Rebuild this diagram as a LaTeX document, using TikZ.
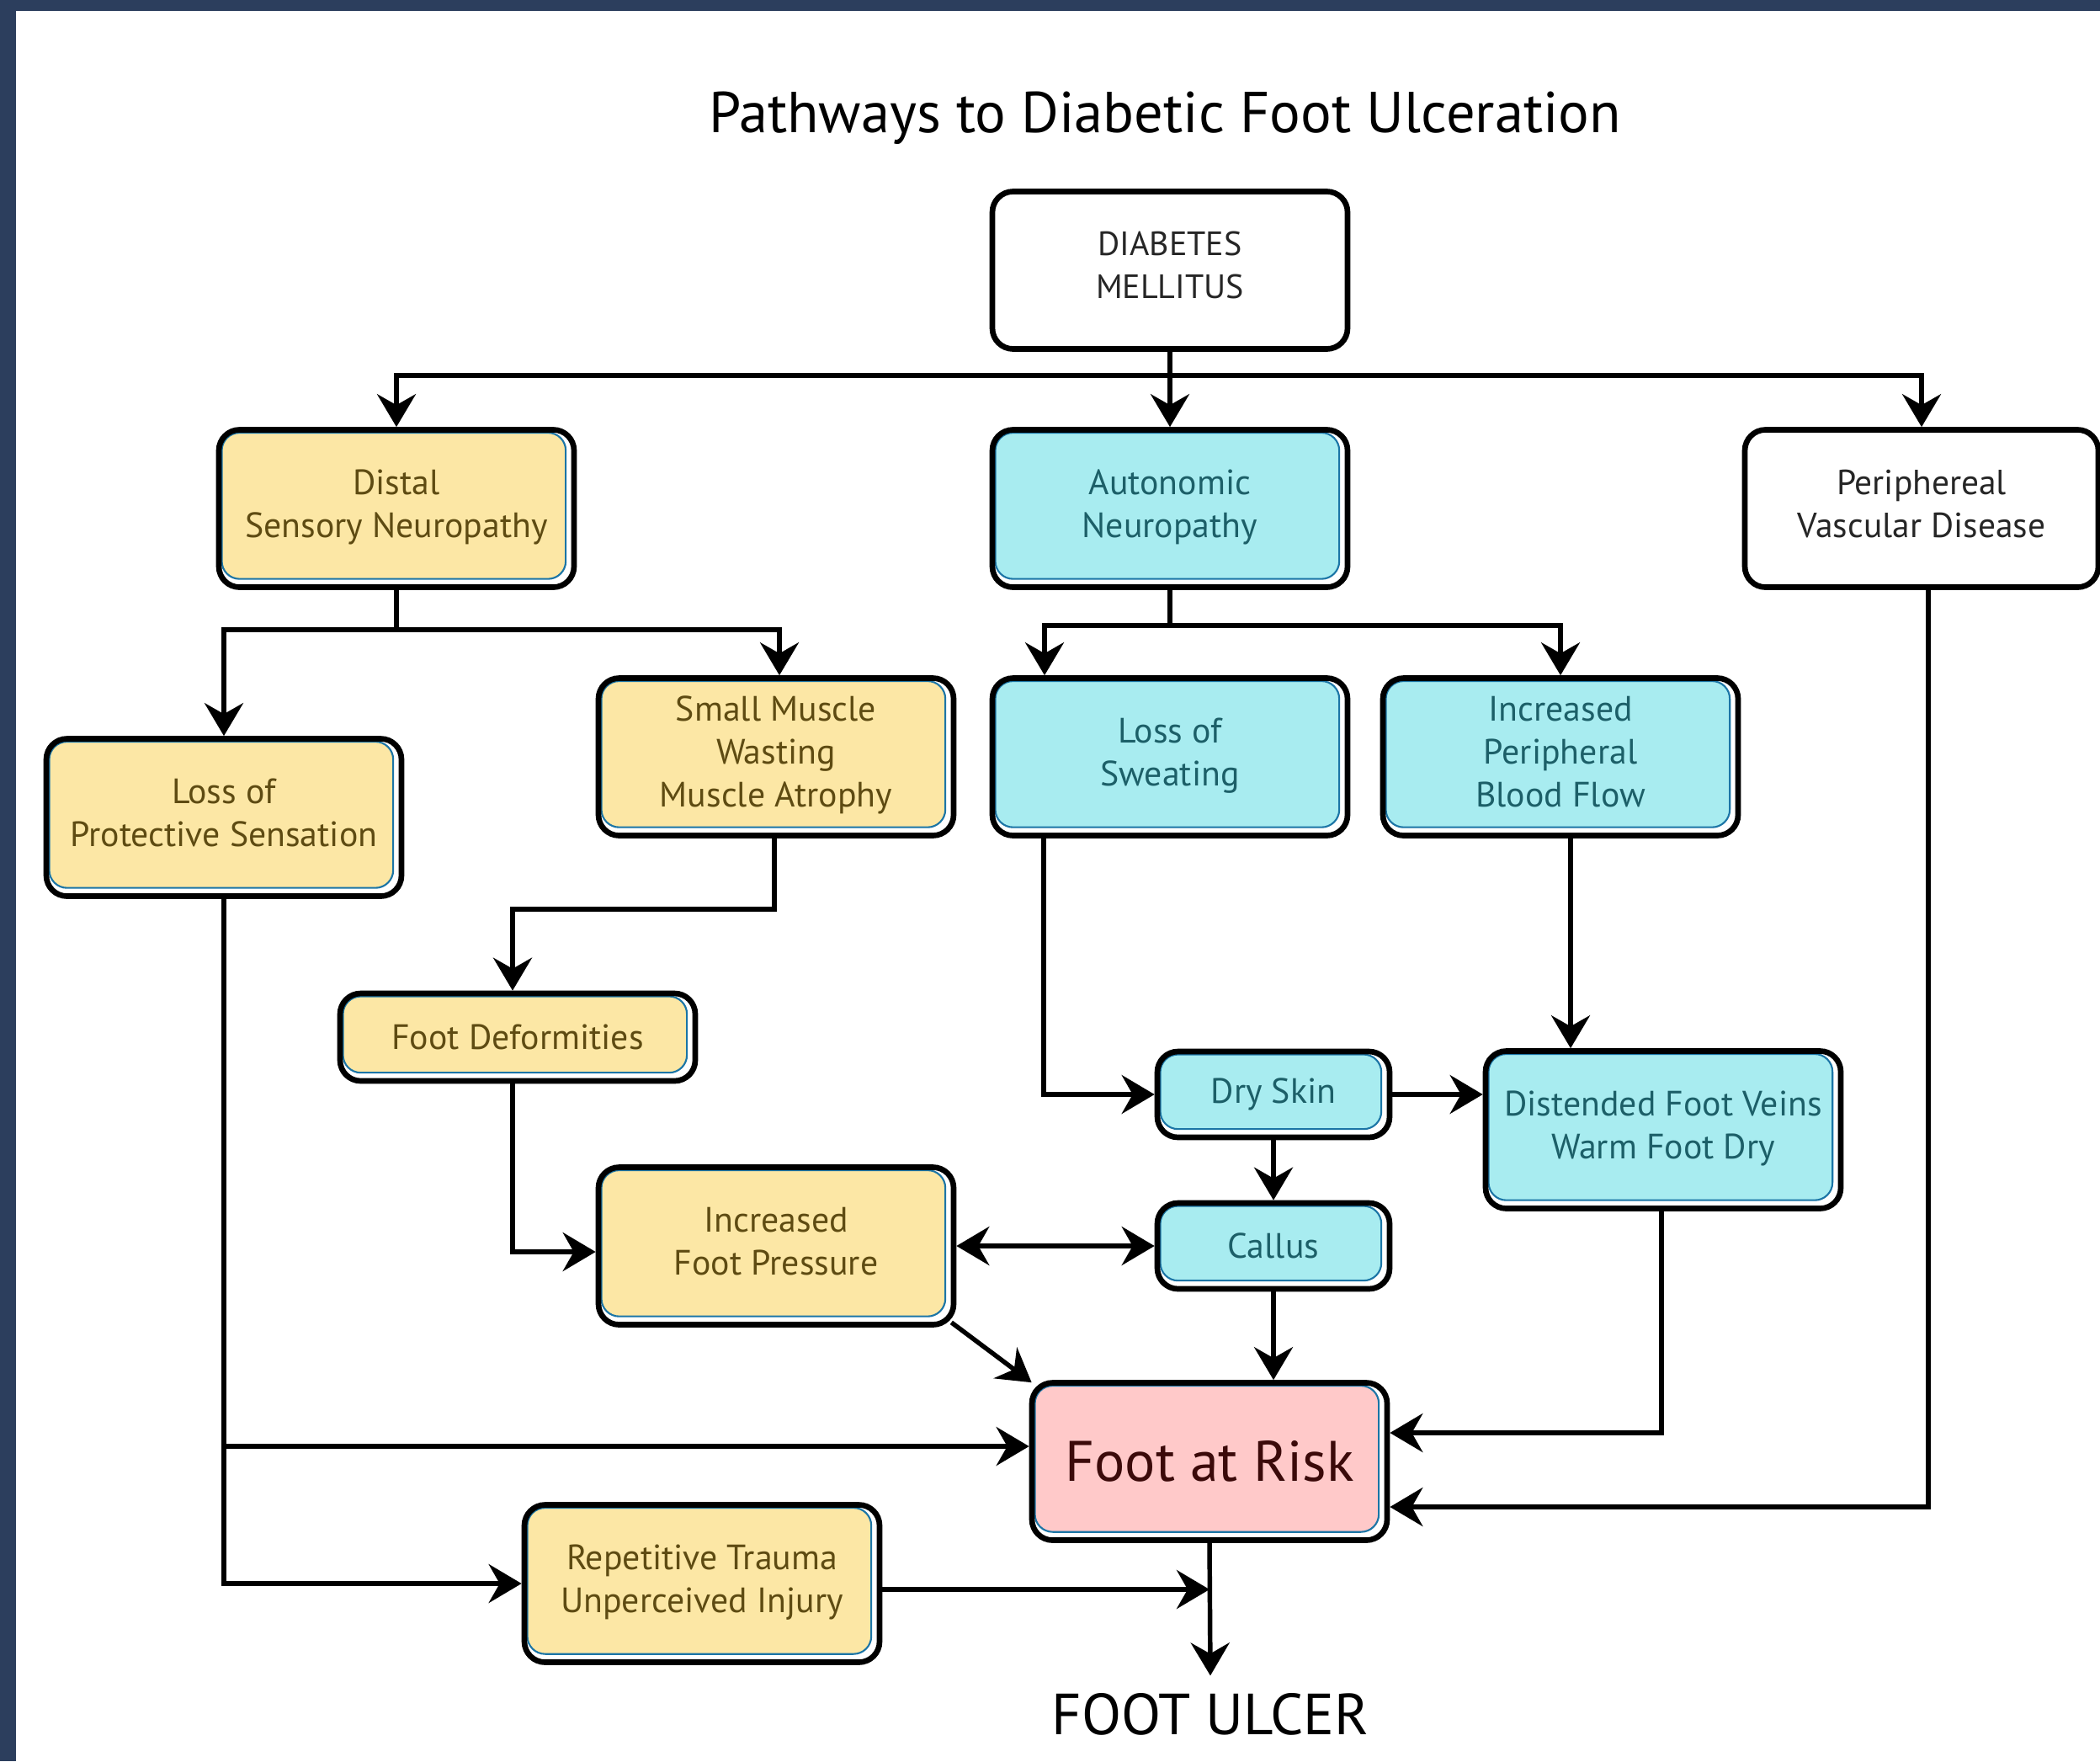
\documentclass[tikz,border=0pt]{standalone}
\usepackage{fontspec}
\setmainfont{PT Sans}
\usetikzlibrary{positioning,arrows.meta,calc}
\definecolor{marco}{HTML}{2C3E5D}
\definecolor{amarillo}{HTML}{FCE7A5}
\definecolor{celeste}{HTML}{A8ECF0}
\definecolor{rosa}{HTML}{FFC9C9}
\definecolor{borde}{HTML}{1B75A6}
\definecolor{textoam}{HTML}{5E4B12}
\definecolor{textoce}{HTML}{1C5F68}
\definecolor{textoro}{HTML}{3B0A0A}
\definecolor{tinta}{HTML}{262626}
\tikzset{
  caja/.style={draw=black,line width=1.9pt,rounded corners=7pt,align=center,fill=white,
    minimum width=4.22cm,minimum height=1.87cm,inner sep=2pt,text=tinta,
    font=\fontsize{11.9}{14.5}\selectfont,text depth=0.12cm},
  relleno/.style={path picture={\draw[fill=#1,draw=borde,line width=0.6pt,rounded corners=6pt]
      ([shift={(1pt,-1pt)}]path picture bounding box.north west) rectangle
      ([shift={(-2.8pt,2.8pt)}]path picture bounding box.south east);}},
  sensor/.style={caja,relleno=amarillo,text=textoam},
  autonom/.style={caja,relleno=celeste,text=textoce},
  chica/.style={minimum width=2.76cm,minimum height=1.02cm,text depth=},
  punta/.tip={Stealth[length=3.9mm,width=4.6mm,inset=1.3mm]},
  flecha/.style={-punta,line width=1.55pt},
  flechab/.style={punta-punta,line width=1.55pt},
}
\begin{document}
\begin{tikzpicture}
  \useasboundingbox (0,0) rectangle (24.95,-20.92);
  \fill[marco] (0,0) rectangle (0.19,-20.92);
  \fill[marco] (0,0) rectangle (24.95,-0.13);

  \node[font=\fontsize{19.5}{23}\selectfont] (titulo) at (13.84,-1.40) {Pathways to Diabetic Foot Ulceration};

  % fila superior
  \node[caja,font=\fontsize{11.4}{14.5}\selectfont] (dm) at (13.90,-3.21) {DIABETES\\MELLITUS};
  \node[sensor] (dsn) at (4.71,-6.04) {Distal\\Sensory Neuropathy};
  \node[autonom] (an) at (13.90,-6.04) {Autonomic\\Neuropathy};
  \node[caja,minimum width=4.20cm,font=\fontsize{11.8}{14.5}\selectfont] (pvd) at (22.83,-6.04) {Periphereal\\Vascular Disease};

  % segunda fila
  \node[sensor] (lops) at (2.66,-9.71) {Loss of\\Protective Sensation};
  \node[sensor] (smw) at (9.22,-8.99) {Small Muscle\\Wasting\\Muscle Atrophy};
  \node[autonom] (los) at (13.90,-8.99) {Loss of\\Sweating};
  \node[autonom] (ipbf) at (18.54,-8.99) {Increased\\Peripheral\\Blood Flow};

  % zona media
  \node[sensor,minimum height=1.04cm,text depth=] (fd) at (6.15,-12.32) {Foot Deformities};
  \node[autonom,chica] (ds) at (15.13,-13.00) {Dry Skin};
  \node[autonom] (dfv) at (19.76,-13.42) {Distended Foot Veins\\Warm Foot Dry};
  \node[sensor] (ifp) at (9.22,-14.80) {Increased\\Foot Pressure};
  \node[autonom,chica] (cal) at (15.13,-14.80) {Callus};

  % zona inferior
  \node[caja,relleno=rosa,text=textoro,text depth=,font=\fontsize{19.3}{23}\selectfont] (far) at (14.37,-17.36) {Foot at Risk};
  \node[sensor] (rt) at (8.34,-18.81) {Repetitive Trauma\\Unperceived Injury};
  \node[font=\fontsize{19.6}{23}\selectfont,inner sep=2mm] (ulcer) at (14.38,-20.36) {FOOT ULCER};

  \coordinate (bus1) at (0,-4.46);
  \coordinate (bus2) at (0,-7.48);
  \coordinate (bus3) at (0,-7.43);
  \coordinate (codo1) at (0,-10.80);
  \coordinate (riesgoizq) at ([yshift=0.18cm]far.west);
  \coordinate (riesgoder1) at ([yshift=0.34cm]far.east);
  \coordinate (riesgoder2) at ([yshift=-0.54cm]far.east);
  \coordinate (cruce) at ($(rt.east -| far.south)+(0,-0.07)$);

  \draw[flecha] (dm.south) -- (an.north);
  \draw[flecha] (dm.south |- bus1) -| (dsn.north);
  \draw[flecha] (dm.south |- bus1) -| (pvd.north);

  \draw[flecha] (dsn.south) -- (dsn.south |- bus2) -| (lops.north);
  \draw[flecha] (dsn.south |- bus2) -| ([xshift=0.04cm]smw.north);

  \draw[flecha] (an.south) -- (an.south |- bus3) -| ([xshift=-1.49cm]los.north);
  \draw[flecha] (an.south |- bus3) -| (ipbf.north);

  \draw[flecha] ([xshift=-0.02cm]smw.south) -- ([xshift=-0.02cm]smw.south |- codo1) -| ([xshift=-0.06cm]fd.north);
  \draw[flecha] ([xshift=-0.06cm]fd.south) |- ([yshift=-0.07cm]ifp.west);

  \draw[flecha] ([xshift=-1.50cm]los.south) |- (ds.west);
  \draw[flecha] ([xshift=0.12cm]ipbf.south) -- ([xshift=0.12cm]ipbf.south |- dfv.north);
  \draw[flecha] (ds.east) -- (ds.east -| dfv.west);
  \draw[flecha] (ds.south) -- (cal.north);
  \draw[flechab] (ifp.east) -- (cal.west);
  \draw[flecha] (cal.south) -- (cal.south |- far.north);
  \draw[flecha] ([shift={(-0.06cm,0.06cm)}]ifp.south east) -- ([shift={(0.03cm,-0.03cm)}]far.north west);

  \draw[flecha] (lops.south) |- (rt.west);
  \draw[flecha] (lops.south |- riesgoizq) -- (riesgoizq);
  \draw[flecha] ([xshift=-0.02cm]dfv.south) |- (riesgoder1);
  \draw[flecha] ([xshift=0.08cm]pvd.south) |- (riesgoder2);
  \draw[flecha] ([yshift=-0.07cm]rt.east) -- (cruce);
  \draw[flecha] (far.south) -- (ulcer.north);
\end{tikzpicture}
\end{document}
